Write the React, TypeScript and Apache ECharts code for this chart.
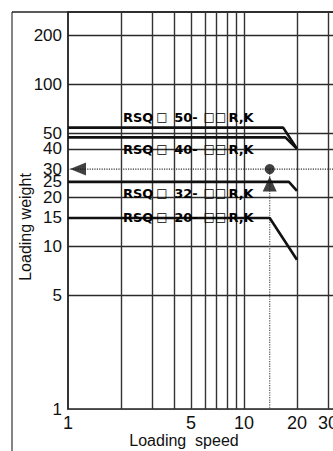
import React, { useEffect, useRef } from "react";
import * as echarts from "echarts";

// ---- data ----
const xGridValues = [2, 3, 4, 5, 6, 7, 8, 9, 10, 20, 30, 40, 50];
const xLabelValues = [1, 5, 10, 20, 30];
const yGridValues = [5, 10, 20, 40, 50, 100, 200];
const yLabelValues = [1, 5, 10, 15, 20, 25, 30, 40, 50, 100, 200];

const rsq50: [number, number][] = [[1, 54], [16.7, 54], [20, 40]];
const rsq40: [number, number][] = [[1, 47], [17.2, 47], [20, 40]];
const rsq32: [number, number][] = [[1, 25], [18, 25], [20, 22]];
const rsq20: [number, number][] = [[1, 15], [14, 15], [20, 8.3]];

const exampleSpeed = 14;
const exampleWeight = 30;
const refLine30: [number, number][] = [[1, 30], [50, 30]];
const refVertical: [number, number][] = [[14, 30], [14, 1]];

const seriesNames = ["50", "40", "32", "20"];

const X_MIN = 1, X_MAX = 50, Y_MIN = 1, Y_MAX = 278;

export default function App() {
  const ref = useRef<HTMLDivElement>(null);
  useEffect(() => {
    if (!ref.current) return;
    const chart = echarts.init(ref.current, undefined, { renderer: "svg" });
    const thick = (name: string, data: [number, number][]) => ({
      name,
      type: "line",
      data,
      symbol: "none",
      lineStyle: { color: "#111", width: 2.6 },
      z: 5,
    });
    const labelPos = [
      { x: 123, y: 117 },
      { x: 123, y: 149 },
      { x: 123, y: 193 },
      { x: 123, y: 217 },
    ];
    const rich = {
      a: { fontFamily: "DejaVu Sans", fontWeight: "bold", fontSize: 13, color: "#111" },
      n: { fontFamily: "DejaVu Sans", fontWeight: "bold", fontSize: 13, color: "#111", width: 31 },
      b1: { fontFamily: "DejaVu Sans", fontSize: 12, color: "#bbb", width: 17, align: "center" },
      b2: { fontFamily: "DejaVu Sans", fontSize: 12, color: "#bbb", width: 27, align: "center" },
    };
    chart.setOption({
      animation: false,
      grid: {
        left: 68, top: 12, right: 33, bottom: 42,
        show: true, borderColor: "#222", borderWidth: 1.3,
      },
      xAxis: {
        type: "log", min: X_MIN, max: X_MAX, logBase: 10,
        axisLine: { show: true, lineStyle: { color: "#444", width: 1.2 } },
        axisTick: { show: false, customValues: xGridValues },
        axisLabel: {
          customValues: xLabelValues, fontSize: 18, color: "#111",
          fontFamily: "Liberation Sans", margin: 5, showMinLabel: true, showMaxLabel: true,
        },
        splitLine: { show: true, lineStyle: { color: "#333", width: 1.4 } },
      },
      yAxis: {
        type: "log", min: Y_MIN, max: Y_MAX, logBase: 10,
        axisLine: { show: true, lineStyle: { color: "#222", width: 1.5 } },
        axisTick: { show: false, customValues: yGridValues },
        axisLabel: {
          customValues: yLabelValues, fontSize: 17, lineHeight: 13, color: "#111",
          fontFamily: "Liberation Sans", margin: 6, showMinLabel: true,
        },
        splitLine: { show: true, lineStyle: { color: "#2a2a2a", width: 1.3 } },
      },
      series: [
        thick("RSQ50", rsq50),
        thick("RSQ40", rsq40),
        thick("RSQ32", rsq32),
        thick("RSQ20", rsq20),
        {
          type: "line", data: refLine30, symbol: "none",
          lineStyle: { color: "#333", width: 1.2, type: "dotted" }, z: 4,
        },
        {
          type: "line", data: refVertical, symbol: "none",
          lineStyle: { color: "#555", width: 1.2, type: "dotted" }, z: 4,
        },
        {
          type: "scatter",
          data: [[exampleSpeed, exampleWeight]],
          symbol: "circle", symbolSize: 10,
          itemStyle: { color: "#111" }, z: 6,
        },
        {
          type: "scatter",
          data: [[exampleSpeed, exampleWeight]],
          symbol: "triangle", symbolSize: [14, 15], symbolOffset: [0, 15],
          itemStyle: { color: "#111" }, z: 6,
        },
        {
          type: "scatter",
          data: [[X_MIN, exampleWeight]],
          symbol: "triangle", symbolSize: [13, 16], symbolRotate: 90, symbolOffset: [10, 0],
          itemStyle: { color: "#111" }, z: 6,
        },
      ],
      graphic: [
        {
          type: "line", shape: { x1: 12, y1: 12, x2: 12, y2: 451 },
          style: { stroke: "#666", lineWidth: 1.6 },
        },
        {
          type: "line", shape: { x1: 12, y1: 12, x2: 333, y2: 12 },
          style: { stroke: "#222", lineWidth: 1.3 },
        },
        {
          type: "text", x: 25, y: 227, rotation: Math.PI / 2,
          style: {
            text: "Loading weight", fontFamily: "Liberation Sans", fontSize: 16,
            fill: "#111", align: "center", verticalAlign: "middle",
          },
        },
        {
          type: "text", x: 184, y: 440,
          style: {
            text: "Loading  speed", fontFamily: "Liberation Sans", fontSize: 16,
            fill: "#111", align: "center", verticalAlign: "middle",
          },
        },
        ...seriesNames.map((n, i) => ({
          type: "text", x: labelPos[i].x, y: labelPos[i].y, z: 10,
          style: {
            text: `{a|RSQ}{b1|□}{n|${n}-}{b2|□□}{a|R,K}`,
            rich, verticalAlign: "middle", align: "left",
          },
        })),
      ],
    });
    return () => chart.dispose();
  }, []);
  return (
    <div style={{ position: "absolute", left: 0, top: 0, width: 333, height: 451, overflow: "hidden", background: "#fff" }}>
      <div ref={ref} style={{ width: 400, height: 451 }} />
    </div>
  );
}
